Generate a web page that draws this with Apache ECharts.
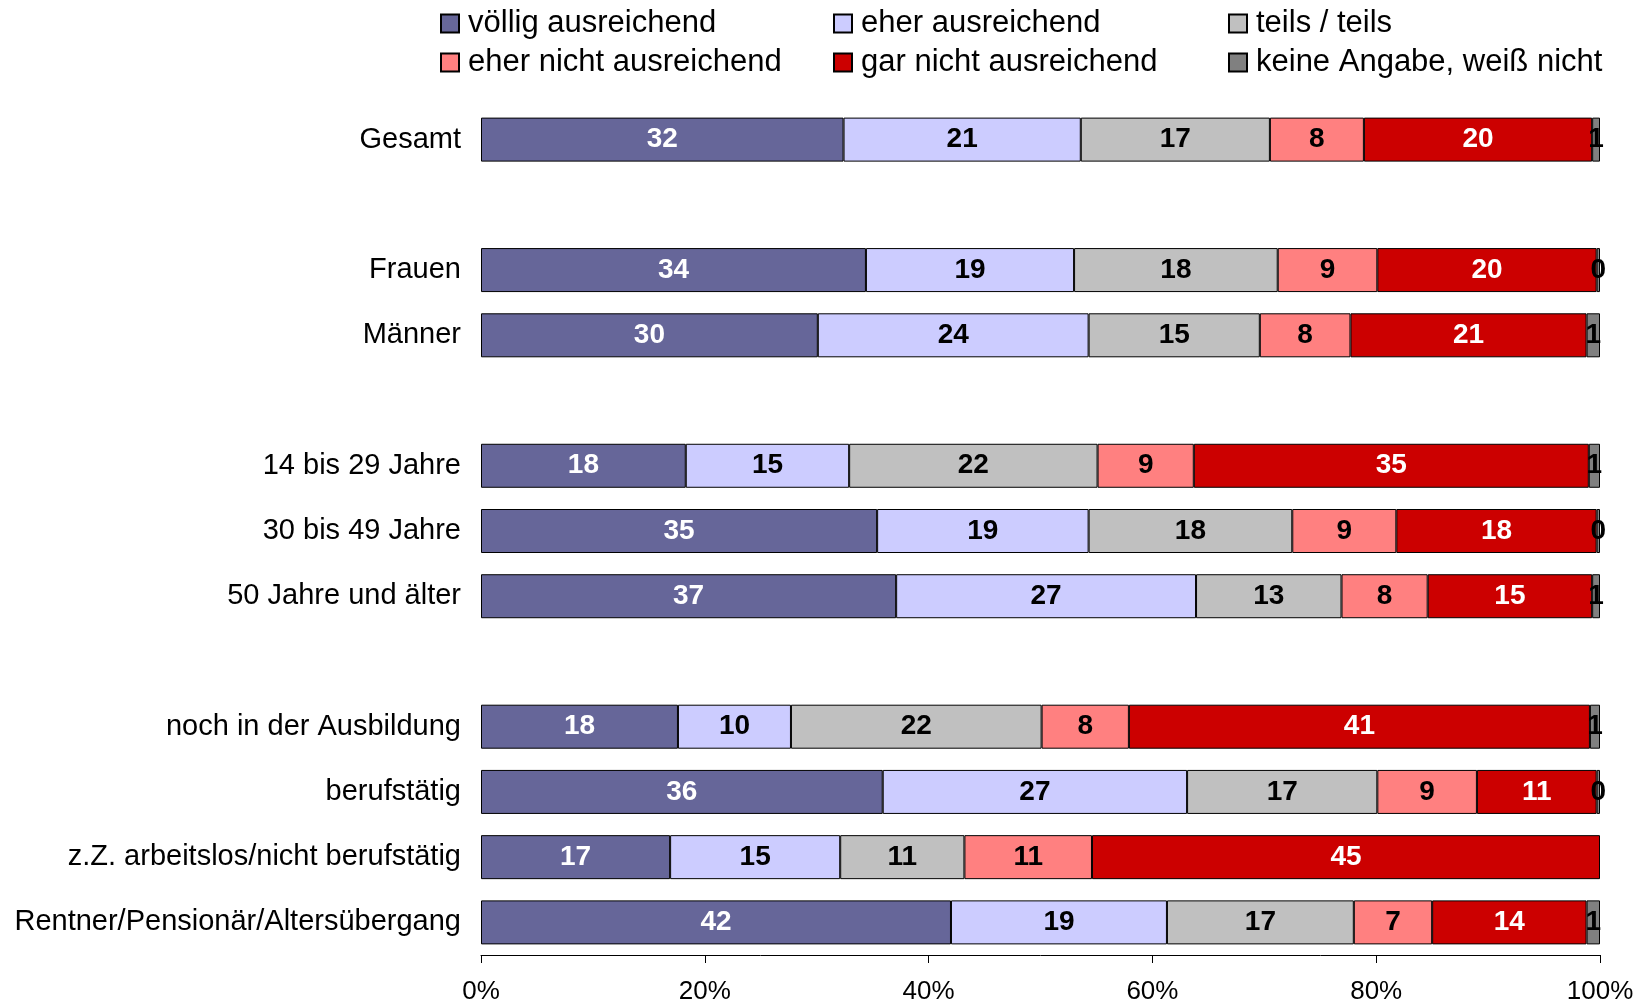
<!doctype html>
<html>
	<head>
		<meta charset="utf-8">
		<title>Einschätzung</title>
		<style>
			html, body { margin: 0; padding: 0; background: #fff; }
			#chart { width: 1644px; height: 1007px; }
		</style>
	</head>
	<body>
		<div id="chart"></div>
		<script src="https://cdn.jsdelivr.net/npm/echarts@6/dist/echarts.min.js"></script>
		<script type="text/javascript">
			// Kategorien (leere Einträge = Abstand zwischen den Gruppen)
			var categories = ['Gesamt', ' ', 'Frauen', 'Männer', '  ', '14 bis 29 Jahre', '30 bis 49 Jahre', '50 Jahre und älter', '   ',
				'noch in der Ausbildung', 'berufstätig', 'z.Z. arbeitslos/nicht berufstätig', 'Rentner/Pensionär/Altersübergang'];

			var voellig   = [32.4, null, 34.4, 30.1, null, 18.3, 35.4, 37.1, null, 17.6, 35.9, 16.9, 42.0];
			var eher      = [21.2, null, 18.6, 24.2, null, 14.6, 18.9, 26.8, null, 10.1, 27.2, 15.2, 19.3];
			var teils     = [16.9, null, 18.2, 15.3, null, 22.2, 18.2, 13.0, null, 22.4, 17.0, 11.1, 16.7];
			var eherNicht = [8.4, null, 8.9, 8.1, null, 8.6, 9.3, 7.7, null, 7.8, 8.9, 11.4, 7.0];
			var garNicht  = [20.4, null, 19.6, 21.1, null, 35.3, 17.9, 14.7, null, 41.2, 10.7, 45.4, 13.8];
			var keine     = [0.7, null, 0.3, 1.2, null, 1.0, 0.3, 0.7, null, 0.9, 0.3, null, 1.2];

			var xTicks = [0, 20, 40, 60, 80, 100];

			var font = 'Liberation Sans, Arial, sans-serif';

			function makeSeries(name, data, color, labelColor) {
				return {
					name: name,
					type: 'bar',
					stack: 'gesamt',
					barWidth: 44,
					data: data,
					itemStyle: { color: color, borderColor: '#000', borderWidth: 1 },
					label: {
						show: true,
						position: 'inside',
						color: labelColor,
						fontFamily: font,
						fontWeight: 'bold',
						fontSize: 28,
						formatter: function(p) {
							return p.value == null ? '' : Math.round(p.value);
						}
					},
					emphasis: { disabled: true }
				};
			}

			function makeLegend(items, left) {
				return {
					orient: 'vertical',
					left: left,
					top: 3,
					itemGap: 8,
					itemWidth: 18,
					itemHeight: 18,
					icon: 'rect',
					selectedMode: false,
					data: items,
					textStyle: { fontFamily: font, fontSize: 31, color: '#000', padding: [0, 0, 0, 4] }
				};
			}

			var myChart = echarts.init(document.getElementById('chart'), null, { renderer: 'canvas' });
			var option = {
				animation: false,
				backgroundColor: '#fff',
				legend: [
					makeLegend(['völlig ausreichend', 'eher nicht ausreichend'], 435),
					makeLegend(['eher ausreichend', 'gar nicht ausreichend'], 828),
					makeLegend(['teils / teils', 'keine Angabe, weiß nicht'], 1223)
				],
				grid: {
					left: 481,
					right: 44,
					top: 107,
					bottom: 52
				},
				xAxis: {
					type: 'value',
					min: xTicks[0],
					max: xTicks[xTicks.length - 1],
					interval: 20,
					axisLine: { show: true, lineStyle: { color: '#000', width: 1 } },
					axisTick: { show: true, length: 8, lineStyle: { color: '#000' } },
					splitLine: { show: false },
					axisLabel: {
						margin: 24,
						color: '#000',
						fontFamily: font,
						fontSize: 26,
						formatter: '{value}%'
					}
				},
				yAxis: {
					type: 'category',
					inverse: true,
					data: categories,
					axisLine: { show: false },
					axisTick: { show: false },
					axisLabel: {
						margin: 20,
						color: '#000',
						fontFamily: font,
						fontSize: 29,
						padding: [6, 0, 0, 0]
					}
				},
				series: [
					makeSeries('völlig ausreichend', voellig, '#666699', '#fff'),
					makeSeries('eher ausreichend', eher, '#CCCCFF', '#000'),
					makeSeries('teils / teils', teils, '#C0C0C0', '#000'),
					makeSeries('eher nicht ausreichend', eherNicht, '#FF8080', '#000'),
					makeSeries('gar nicht ausreichend', garNicht, '#CC0000', '#fff'),
					makeSeries('keine Angabe, weiß nicht', keine, '#808080', '#000')
				]
			};
			myChart.setOption(option);
		</script>
	</body>
</html>
